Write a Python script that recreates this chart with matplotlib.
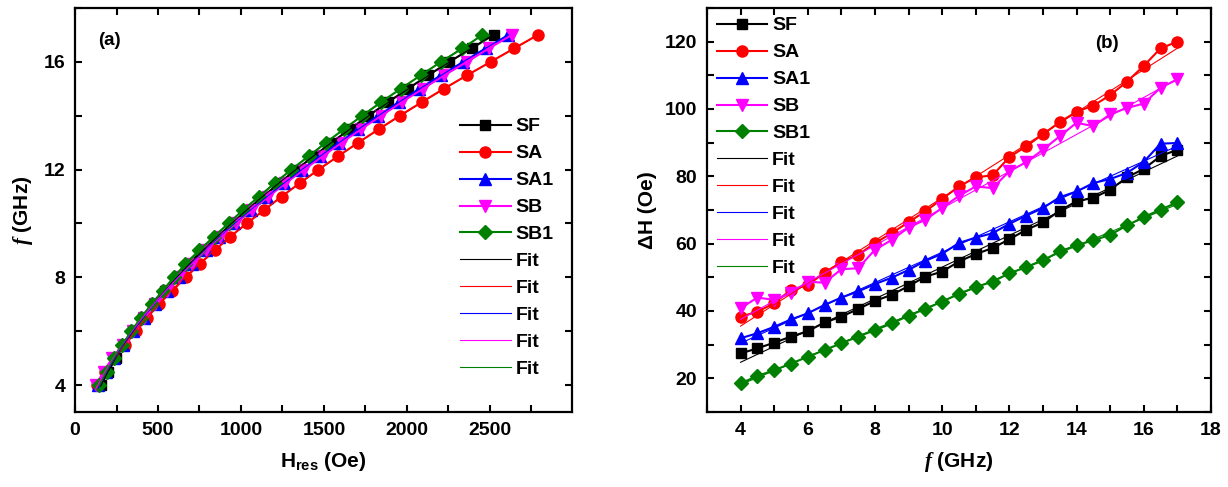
import numpy as np
import matplotlib
matplotlib.use('Agg')
import matplotlib.pyplot as plt
from matplotlib.ticker import MultipleLocator

plt.rcParams['font.family'] = ['Liberation Sans', 'DejaVu Sans']
plt.rcParams['font.weight'] = 'bold'
plt.rcParams['mathtext.fontset'] = 'custom'
plt.rcParams['mathtext.it'] = 'Liberation Serif:italic'
plt.rcParams['mathtext.bf'] = 'Liberation Sans:bold'
plt.rcParams['mathtext.rm'] = 'Liberation Sans:bold'

# frequencies (GHz), same for every sample
freq = np.arange(4, 17.01, 0.5)

# (a) resonance field H_res (Oe)
h_sf = [155, 200, 245, 297, 352, 410, 475, 543, 612, 684, 768, 856, 947, 1037,
        1135, 1232, 1333, 1440, 1545, 1655, 1768, 1885, 2005, 2128, 2255, 2390, 2522]
h_sa = [130, 180, 235, 300, 370, 435, 505, 585, 668, 752, 842, 933, 1035, 1140,
        1245, 1355, 1467, 1586, 1706, 1830, 1957, 2088, 2222, 2362, 2505, 2647, 2790]
h_sa1 = [140, 185, 235, 292, 352, 415, 482, 553, 627, 705, 787, 870, 960, 1058,
         1155, 1258, 1365, 1478, 1592, 1708, 1828, 1950, 2075, 2205, 2340, 2475, 2612]
h_sb = [125, 172, 225, 287, 350, 413, 480, 553, 628, 707, 790, 876, 968, 1068,
        1165, 1268, 1380, 1492, 1607, 1723, 1845, 1968, 2095, 2225, 2362, 2495, 2632]
h_sb1 = [147, 191, 235, 285, 340, 397, 461, 528, 595, 665, 748, 835, 925, 1013,
         1110, 1205, 1304, 1409, 1512, 1620, 1730, 1843, 1962, 2083, 2205, 2335, 2455]

# (b) linewidth dH (Oe)
dh_sf = [27.4, 28.9, 30.6, 32.4, 34.0, 36.6, 38.3, 40.6, 43.0, 44.8, 47.4, 50.2, 51.7, 54.7,
         56.9, 58.7, 61.3, 64.1, 66.3, 69.8, 72.6, 73.6, 76.0, 79.7, 82.2, 86.0, 87.9]
dh_sa = [38.3, 39.8, 42.3, 46.3, 47.7, 51.4, 54.5, 56.7, 60.2, 63.1, 66.4, 69.6, 73.3, 77.0,
         79.7, 80.3, 85.7, 88.9, 92.5, 96.1, 99.2, 101.0, 104.1, 108.1, 112.8, 118.0, 120.0]
dh_sa1 = [31.9, 33.4, 35.3, 37.5, 39.3, 41.8, 44.0, 45.8, 48.0, 49.9, 52.2, 54.9, 57.0, 60.2,
          61.8, 63.1, 65.9, 68.3, 70.6, 73.8, 75.5, 78.0, 79.2, 81.0, 84.3, 89.7, 89.9]
dh_sb = [40.8, 44.0, 43.3, 45.3, 48.7, 48.4, 52.4, 52.7, 58.2, 61.1, 64.8, 67.1, 70.6, 74.2,
         77.0, 76.5, 81.5, 84.2, 87.9, 91.9, 95.9, 94.9, 98.4, 100.3, 101.6, 106.3, 108.8]
dh_sb1 = [18.5, 20.7, 22.4, 24.4, 26.4, 28.4, 30.4, 32.4, 34.3, 36.3, 38.6, 40.6, 42.8, 45.1,
          47.1, 48.7, 51.2, 53.0, 55.0, 57.7, 59.5, 61.0, 62.6, 65.4, 67.9, 70.1, 72.3]

labels = ['SF', 'SA', 'SA1', 'SB', 'SB1']
colors = ['black', 'red', 'blue', 'magenta', 'green']
markers = ['s', 'o', '^', 'v', 'D']
msizes = [7.5, 8, 8, 8, 7.2]

fig = plt.figure(figsize=(12.28, 4.87), dpi=100)
ax1 = fig.add_axes([0.0611, 0.154, 0.4047, 0.8296])
ax2 = fig.add_axes([0.5757, 0.154, 0.4104, 0.8296])

# panel (a): data + Kittel-type fit (quadratic in f^2)
for h, lab, c, m, ms in zip([h_sf, h_sa, h_sa1, h_sb, h_sb1], labels, colors, markers, msizes):
    ax1.plot(h, freq, color=c, marker=m, ms=ms, lw=1.5, label=lab)
for h, c in zip([h_sf, h_sa, h_sa1, h_sb, h_sb1], colors):
    h = np.array(h, float)
    p = np.polyfit(h, freq ** 2, 2)
    hh = np.linspace(h.min(), h.max(), 200)
    ax1.plot(hh, np.sqrt(np.polyval(p, hh)), color=c, lw=0.8, label='Fit', zorder=3)

# panel (b): data + linear fit
for d, lab, c, m, ms in zip([dh_sf, dh_sa, dh_sa1, dh_sb, dh_sb1], labels, colors, markers, msizes):
    ax2.plot(freq, d, color=c, marker=m, ms=ms, lw=1.5, label=lab)
for d, c in zip([dh_sf, dh_sa, dh_sa1, dh_sb, dh_sb1], colors):
    p = np.polyfit(freq, d, 1)
    ax2.plot(freq, np.polyval(p, freq), color=c, lw=0.8, label='Fit', zorder=3)

ax1.set_xlim(0, 2995)
ax1.set_ylim(3, 18)
ax1.xaxis.set_major_locator(MultipleLocator(500))
ax1.xaxis.set_minor_locator(MultipleLocator(250))
ax1.yaxis.set_major_locator(MultipleLocator(4))
ax1.yaxis.set_minor_locator(MultipleLocator(2))
ax1.set_xlabel(r'H$_{\mathbf{res}}$ (Oe)', fontsize=15, fontweight='bold', labelpad=8)
ax1.set_ylabel(r'$f$ (GHz)', fontsize=15, fontweight='bold', labelpad=6)
ax1.text(0.07, 0.92, '(a)', transform=ax1.transAxes, fontsize=13.5, fontweight='bold',
         ha='center', va='center')

ax2.set_xlim(3, 18)
ax2.set_ylim(10, 130)
ax2.xaxis.set_major_locator(MultipleLocator(2))
ax2.xaxis.set_minor_locator(MultipleLocator(1))
ax2.yaxis.set_major_locator(MultipleLocator(20))
ax2.yaxis.set_minor_locator(MultipleLocator(10))
ax2.set_xlabel(r'$f$ (GHz)', fontsize=15, fontweight='bold', labelpad=8)
ax2.set_ylabel('ΔH (Oe)', fontsize=15, fontweight='bold', labelpad=6)
ax2.text(0.794, 0.913, '(b)', transform=ax2.transAxes, fontsize=13.5, fontweight='bold',
         ha='center', va='center')

for ax in (ax1, ax2):
    for s in ax.spines.values():
        s.set_linewidth(1.6)
    ax.tick_params(which='both', direction='in', top=True, right=True,
                   width=1.5, labelsize=14, pad=7)
    ax.tick_params(which='major', length=5)
    ax.tick_params(which='minor', length=5)
    for t in ax.get_xticklabels() + ax.get_yticklabels():
        t.set_fontweight('bold')

leg_kw = dict(frameon=False, fontsize=14, numpoints=1, handlelength=2.6,
              handletextpad=0.25, labelspacing=0.48, borderpad=0, borderaxespad=0)
ax1.legend(loc='upper left', bbox_to_anchor=(0.775, 0.728), **leg_kw)
ax2.legend(loc='upper left', bbox_to_anchor=(0.019, 0.978), **leg_kw)

fig.savefig('out.png', dpi=100)
